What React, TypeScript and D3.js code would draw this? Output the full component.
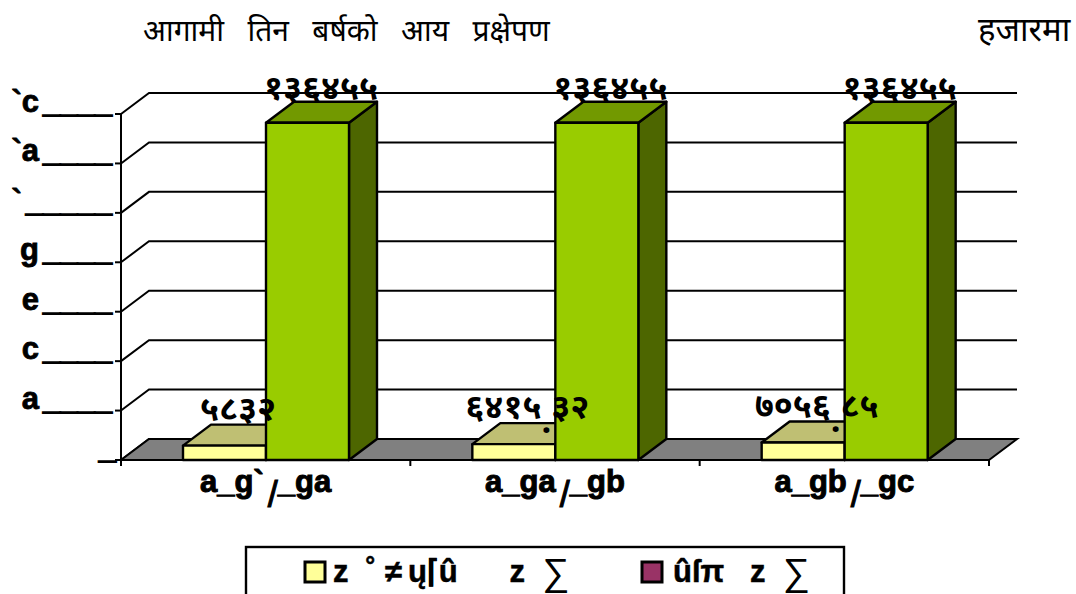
import React from "react";
import * as d3 from "d3";

const categories = ["a_g`/_ga", "a_ga/_gb", "a_gb/_gc"];
const nb = "\u00a0";
const seriesNames = [
  `z${nb}${nb}˚${nb}≠\u2009ų⌈û${nb.repeat(6)}z${nb}${nb}`,
  `ûſπ${nb.repeat(3)}z${nb}${nb}`,
];
const sigma = "∑";
const revenue = [5832, 6415.32, 7056.85];
const projected = [136455, 136455, 136455];
const revenueLabels = ["५८३२", "६४१५.३२", "७०५६.८५"];
const projectedLabels = ["१३६४५५", "१३६४५५", "१३६४५५"];
const tickValues = [0, 20000, 40000, 60000, 80000, 100000, 120000, 140000];
const tickHeads = ["", "a", "c", "e", "g", "`", "`a", "`c"];
const tickRules = ["_", "____", "____", "____", "____", "_____", "____", "____"];
const title = ["आगामी", "तिन", "बर्षको", "आय", "प्रक्षेपण"].join(nb.repeat(3));
const unit = "हजारमा";

const latin = "'Liberation Sans', Arial, sans-serif";
const deva = "'Noto Sans Devanagari', 'Lohit Devanagari', 'Noto Sans', sans-serif";
const depthX = 28;
const depthY = 21;

const y = d3.scaleLinear().domain([0, 140000]).range([460, 114]);
const x0 = d3.scaleBand<string>().domain(categories).range([121, 989]);
const x1 = d3.scaleBand<string>().domain(["revenue", "projected"]).range([62, 228]);

const poly = (pts: number[][]) => `M${pts.map((p) => p.join(",")).join("L")}Z`;

function Bar({ x, w, v, front, top, side }: { x: number; w: number; v: number; front: string; top: string; side: string }) {
  const t = y(v);
  const b = y(0);
  return (
    <g stroke="#000" strokeWidth={2.4} strokeLinejoin="round">
      <path d={poly([[x + w, t], [x + w + depthX, t - depthY], [x + w + depthX, b - depthY], [x + w, b]])} fill={side} />
      <path d={poly([[x, t], [x + depthX, t - depthY], [x + w + depthX, t - depthY], [x + w, t]])} fill={top} />
      <rect x={x} y={t} width={w} height={b - t} fill={front} />
    </g>
  );
}

function DataLabel({ x, y: ty, label }: { x: number; y: number; label: string }) {
  const [whole, frac] = label.split(".");
  return (
    <text x={x} y={ty} textAnchor="middle" fontFamily={deva} fontWeight="bold" fontSize={34}>
      {whole}
      {frac && <tspan dy={15}>.</tspan>}
      {frac && <tspan dy={-15}>{frac}</tspan>}
    </text>
  );
}

function LegendText({ x, label }: { x: number; label: string }) {
  return (
    <text x={x} y={582} fontFamily={latin} fontWeight="bold" fontSize={31} stroke="#000" strokeWidth={0.5}>
      {label}
      <tspan fontWeight="normal" fontSize={38} strokeWidth={0} dy={3}>{sigma}</tspan>
    </text>
  );
}

export default function App() {
  const [xl, xr] = x0.range();
  return (
    <svg width={1076} height={594} style={{ position: "absolute", left: 0, top: 0, background: "#fff" }}>
      <text x={143} y={41} fontFamily={deva} fontSize={30}>{title}</text>
      <text x={978} y={41} fontFamily={deva} fontSize={33}>{unit}</text>

      {tickValues.map((v) => (
        <g key={v} stroke="#000" strokeWidth={2} fill="none">
          <path d={`M${xl},${y(v)}L${xl + depthX},${y(v) - depthY}L${xr + depthX},${y(v) - depthY}`} />
          <line x1={xl - 6} x2={xl} y1={y(v)} y2={y(v)} />
        </g>
      ))}
      <path d={poly([[xl, y(0)], [xl + depthX, y(0) - depthY], [xr + depthX, y(0) - depthY], [xr, y(0)]])} fill="#808080" stroke="#000" strokeWidth={2} />
      <line x1={xl} x2={xl} y1={y(140000)} y2={y(0)} stroke="#000" strokeWidth={2} />
      {[...categories.map((c) => x0(c)!), xr].map((t) => (
        <line key={t} x1={t} x2={t} y1={y(0)} y2={y(0) + 6} stroke="#000" strokeWidth={2} />
      ))}

      {tickValues.map((v, i) => (
        <text key={v} x={112} y={y(v) - 2} textAnchor="end" fontFamily={latin} fontWeight="bold" fontSize={31} stroke="#000" strokeWidth={0.8}>
          {tickHeads[i]}
          <tspan dx={4} strokeWidth={1.6}>{tickRules[i]}</tspan>
        </text>
      ))}

      {categories.map((c, i) => {
        const bx = x0(c)!;
        const [a, b] = c.split("/");
        return (
          <g key={c}>
            <Bar x={bx + x1("revenue")!} w={x1.bandwidth()} v={revenue[i]} front="#FFFF99" top="#BFBF73" side="#BFBF73" />
            <Bar x={bx + x1("projected")!} w={x1.bandwidth()} v={projected[i]} front="#99CC00" top="#729900" side="#4D6600" />
            <text x={bx + x0.bandwidth() / 2} y={492} textAnchor="middle" fontFamily={latin} fontWeight="bold" fontSize={31} stroke="#000" strokeWidth={1}>
              {a}
              <tspan dx={4} dy={15} fontWeight="normal" fontSize={36}>/</tspan>
              <tspan dy={-15}>{b}</tspan>
            </text>
          </g>
        );
      })}

      {categories.map((c, i) => (
        <g key={c}>
          <DataLabel x={x0(c)! + x1("revenue")! + 55} y={y(revenue[i]) - 26} label={revenueLabels[i]} />
          <DataLabel x={x0(c)! + x1("projected")! + 55} y={y(projected[i]) - 24} label={projectedLabels[i]} />
        </g>
      ))}

      <rect x={246} y={547} width={598} height={60} fill="none" stroke="#000" strokeWidth={2.4} />
      <rect x={305} y={562} width={20} height={20} fill="#FFFF99" stroke="#000" strokeWidth={3} />
      <rect x={642} y={562} width={20} height={20} fill="#993366" stroke="#000" strokeWidth={3} />
      <LegendText x={333} label={seriesNames[0]} />
      <LegendText x={673} label={seriesNames[1]} />
    </svg>
  );
}
